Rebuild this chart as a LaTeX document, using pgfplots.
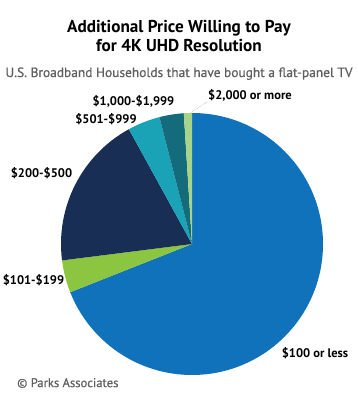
\documentclass[border=0pt]{standalone}
\usepackage{pgfplots}
\usepackage{pgfplotstable}
\pgfplotsset{compat=1.18}
\usepackage{fontspec}
\setmainfont{PT Sans}
\newfontfamily\semibold[FakeBold=0.6]{PT Sans}
\definecolor{c1}{HTML}{1072BA}
\definecolor{c2}{HTML}{8CC540}
\definecolor{c3}{HTML}{182E54}
\definecolor{c4}{HTML}{1AA2B6}
\definecolor{c5}{HTML}{146B7B}
\definecolor{c6}{HTML}{A5D48A}
\definecolor{txtgray}{HTML}{5E5F61}
\pgfplotstableread{
label value color
a 69 c1
b 4 c2
c 19 c3
d 4 c4
e 3 c5
f 1 c6
}\piedata
\begin{document}
\begin{tikzpicture}
\useasboundingbox (0,0) rectangle (358pt,400pt);
\node[anchor=base,font=\bfseries\fontsize{17.2}{19}\selectfont,inner sep=0pt] at (179pt,367pt) {Additional Price Willing to Pay};
\node[anchor=base,font=\bfseries\fontsize{17.2}{19}\selectfont,inner sep=0pt] at (179pt,348pt) {for 4K UHD Resolution};
\node[anchor=base,font=\semibold\fontsize{13.4}{15}\selectfont,text=txtgray,inner sep=0pt] at (179pt,323pt) {U.S. Broadband Households that have bought a flat-panel TV};
\begin{axis}[at={(192pt,156pt)}, anchor=origin, width=262pt, height=262pt, scale only axis,
  xmin=-1, xmax=1, ymin=-1, ymax=1, hide axis, clip=false]
\pgfplotstablegetrowsof{\piedata}
\pgfmathtruncatemacro\nrows{\pgfplotsretval-1}
\def\cum{0}
\pgfplotsforeachungrouped \i in {0,...,\nrows}{
  \pgfplotstablegetelem{\i}{value}\of\piedata \let\v\pgfplotsretval
  \pgfplotstablegetelem{\i}{color}\of\piedata \let\c\pgfplotsretval
  \pgfmathsetmacro\a{90-3.6*\cum}
  \pgfmathsetmacro\b{90-3.6*(\cum+\v)}
  \pgfmathsetmacro\cum{\cum+\v}
  \edef\temp{\noexpand\fill[\c] (axis cs:0,0) -- ++(\a:131pt) arc[start angle=\a, end angle=\b, radius=131pt] -- cycle;}
  \temp
}
\end{axis}
\draw[densely dotted, gray, thin] (190pt,287pt) -- (207pt,298pt);
\begin{scope}[every node/.style={font=\bfseries\fontsize{12.5}{14}\selectfont, inner sep=0pt}]
\node at (315pt,47pt) {\$100 or less};
\node at (33.5pt,120pt) {\$101-\$199};
\node at (41.5pt,227pt) {\$200-\$500};
\node at (106pt,281pt) {\$501-\$999};
\node at (133.5pt,299pt) {\$1,000-\$1,999};
\node at (250pt,305pt) {\$2,000 or more};
\end{scope}
\node[anchor=west, font=\semibold\fontsize{12.6}{14}\selectfont, text=txtgray, inner sep=0pt] at (17pt,17pt) {© Parks Associates};
\end{tikzpicture}
\end{document}
